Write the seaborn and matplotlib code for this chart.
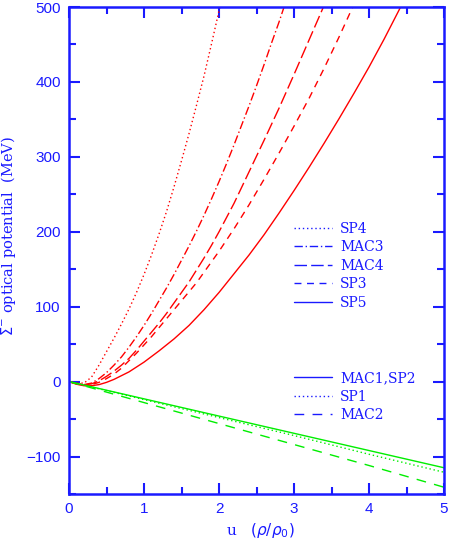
import matplotlib
matplotlib.use("Agg")
import matplotlib.pyplot as plt
from matplotlib.lines import Line2D
from matplotlib.ticker import MultipleLocator
import seaborn as sns

# Sigma- potential vs density

# red curves
u_sp4 = [0, 0.1, 0.2, 0.3, 0.4, 0.5, 0.6, 0.7, 0.8, 0.9, 1.0, 1.1, 1.2, 1.3, 1.4,
         1.5, 1.6, 1.7, 1.8, 1.9, 2.0, 2.1]
v_sp4 = [0, -2, -2, 6, 22, 40, 58, 77, 97, 119, 143, 169, 197, 227, 260,
         295, 331, 369, 408, 451, 495, 540]

u_mac3 = [0, 0.1, 0.2, 0.3, 0.4, 0.5, 0.6, 0.7, 0.8, 0.9, 1.0, 1.1, 1.2, 1.3, 1.4,
          1.5, 1.6, 1.7, 1.8, 1.9, 2.0, 2.1, 2.2, 2.3, 2.4, 2.5, 2.6, 2.7, 2.8, 2.9]
v_mac3 = [0, -2.5, -4, -2, 4, 12, 22, 33, 46, 60, 75, 91, 108, 125, 143,
          162, 181, 201, 222, 244, 267, 291, 316, 342, 368, 395, 423, 452, 480, 510]

u_mac4 = [0, 0.1, 0.2, 0.3, 0.4, 0.5, 0.6, 0.7, 0.8, 0.9, 1.0, 1.1, 1.2, 1.3, 1.4,
          1.5, 1.6, 1.7, 1.8, 1.9, 2.0, 2.2, 2.4, 2.6, 2.8, 3.0, 3.2, 3.4, 3.5]
v_mac4 = [0, -3, -4.5, -3, 1, 7, 14, 22, 31, 42, 54, 66, 78, 91, 105,
          119, 133, 149, 165, 182, 200, 238, 280, 322, 365, 410, 456, 502, 526]

u_sp3 = [0, 0.1, 0.2, 0.3, 0.4, 0.5, 0.6, 0.7, 0.8, 0.9, 1.0, 1.1, 1.2, 1.3, 1.4,
         1.5, 1.6, 1.7, 1.8, 1.9, 2.0, 2.2, 2.4, 2.6, 2.8, 3.0, 3.2, 3.4, 3.6, 3.8, 3.9]
v_sp3 = [0, -3, -5, -4, -1, 4, 10, 18, 28, 38, 49, 60, 72, 84, 96,
         108, 120, 132, 146, 160, 174, 204, 236, 270, 305, 341, 378, 418, 460, 504, 526]

u_sp5 = [0, 0.1, 0.2, 0.3, 0.4, 0.5, 0.6, 0.8, 1.0, 1.2, 1.4, 1.6, 1.8, 2.0, 2.2,
         2.4, 2.6, 2.8, 3.0, 3.2, 3.4, 3.6, 3.8, 4.0, 4.2, 4.4, 4.5]
v_sp5 = [0, -3.5, -5.5, -5.5, -4, -1, 3, 13, 26, 41, 57, 75, 96, 119, 144,
         169, 196, 225, 255, 286, 318, 351, 385, 420, 457, 496, 516]

# green curves
u_green = [0, 1, 2, 3, 4, 5]
v_mac1_sp2 = [0, -23, -46, -69, -92, -115]
v_sp1 = [0, -24, -48, -72, -97, -121]
v_mac2 = [0, -28, -56, -84, -112, -141]

labels_red = ["SP4", "MAC3", "MAC4", "SP3", "SP5"]
labels_green = ["MAC1,SP2", "SP1", "MAC2"]

BLUE = "#1a1aff"
RED = "#ff0000"
GREEN = "#00ee00"

styles_red = [(0, (1, 2)), (0, (6, 2, 1, 2)), (0, (9, 3)), (0, (5, 4)), "-"]
styles_green = ["-", (0, (1, 2)), (0, (7, 6))]

sns.set_style("ticks")
plt.rcParams["font.family"] = ["Liberation Sans", "DejaVu Sans"]

fig = plt.figure(figsize=(4.49, 5.45), dpi=100)
ax = fig.add_axes([0.1537, 0.0936, 0.8353, 0.8935])

red_sets = [(u_sp4, v_sp4), (u_mac3, v_mac3), (u_mac4, v_mac4), (u_sp3, v_sp3), (u_sp5, v_sp5)]
for (u, v), ls in zip(red_sets, styles_red):
    sns.lineplot(x=u, y=v, color=RED, linestyle=ls, linewidth=1.0, ax=ax, sort=False)

for v, ls in zip([v_mac1_sp2, v_sp1, v_mac2], styles_green):
    sns.lineplot(x=u_green, y=v, color=GREEN, linestyle=ls, linewidth=1.0, ax=ax, sort=False)

ax.set_xlim(0, 5)
ax.set_ylim(-150, 500)
ax.xaxis.set_major_locator(MultipleLocator(1))
ax.xaxis.set_minor_locator(MultipleLocator(0.5))
ax.yaxis.set_major_locator(MultipleLocator(100))
ax.yaxis.set_minor_locator(MultipleLocator(50))
ax.tick_params(which="both", direction="in", top=True, right=True, colors=BLUE,
               labelsize=11, width=1.5)
ax.tick_params(which="major", length=8, pad=6)
ax.tick_params(which="minor", length=5)
for side in ax.spines.values():
    side.set_color(BLUE)
    side.set_linewidth(1.8)

ax.set_xlabel(r"u   $(\rho/\rho_0)$", color=BLUE, fontsize=11, family="DejaVu Serif")
ax.xaxis.set_label_coords(0.51, -0.055)
ax.set_ylabel(r"$\Sigma^{-}$ optical potential  (MeV)", color=BLUE, fontsize=10.5,
              family="DejaVu Serif")
ax.yaxis.set_label_coords(-0.135, 0.53)

leg_kw = dict(frameon=False, loc="upper left", handlelength=2.7,
              handletextpad=0.6, labelspacing=0.32, borderpad=0, borderaxespad=0,
              prop={"family": "DejaVu Serif", "size": 10})

h_red = [Line2D([], [], color=BLUE, linestyle=ls, linewidth=1.0) for ls in styles_red]
leg1 = ax.legend(h_red, labels_red, bbox_to_anchor=(0.6, 0.559), labelcolor=BLUE, **leg_kw)
ax.add_artist(leg1)

h_green = [Line2D([], [], color=BLUE, linestyle=ls, linewidth=1.0) for ls in styles_green]
ax.legend(h_green, labels_green, bbox_to_anchor=(0.6, 0.252), labelcolor=BLUE, **leg_kw)

fig.savefig("out.png", dpi=100)
